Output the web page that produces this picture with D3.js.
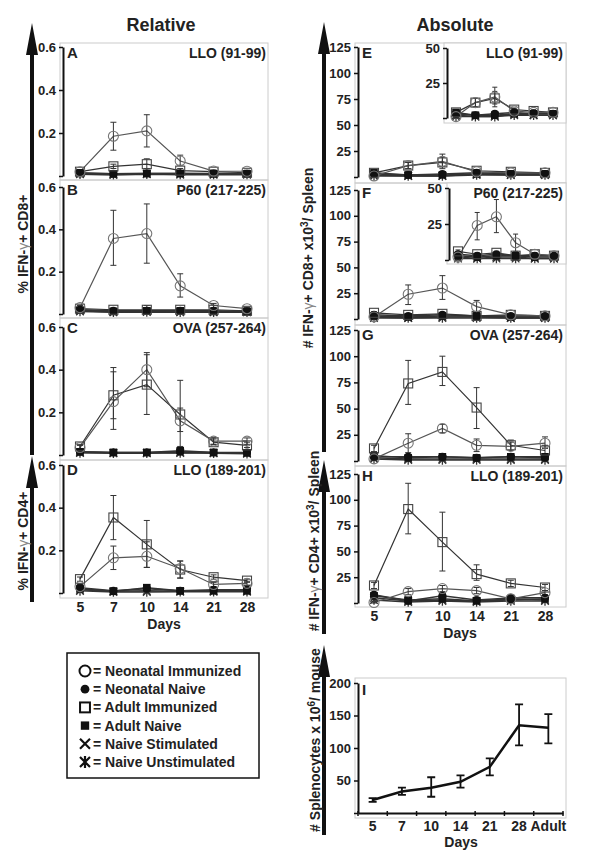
<!DOCTYPE html>
<html><head><meta charset="utf-8">
<script src="https://cdn.jsdelivr.net/npm/d3@7"></script>
<style>body{margin:0;background:#fff}svg{display:block}text{font-family:"Liberation Sans",Arial,sans-serif;font-weight:bold;fill:#222}</style>
</head><body>
<script>
// ---------- DATA ----------
const days = ["5","7","10","14","21","28"];
const iDays = ["5","7","10","14","21","28","Adult"];
const seriesNames = ["Neonatal Immunized","Neonatal Naive","Adult Immunized","Adult Naive","Naive Stimulated","Naive Unstimulated"];
const relTicks = [0, 0.2, 0.4, 0.6];
const absTicks = [0, 25, 50, 75, 100, 125];
const insetTicks = [0, 25, 50];
const spleenTicks = [0, 50, 100, 150, 200];

// rows: neoImm, neoNaive, adultImm, adultNaive, naiveStim, naiveUnstim
const A_values = [
  [0.02, 0.185, 0.21, 0.07, 0.023, 0.022],
  [0.012, 0.01, 0.012, 0.012, 0.012, 0.01],
  [0.02, 0.045, 0.055, 0.025, 0.02, 0.015],
  [0.015, 0.01, 0.012, 0.012, 0.01, 0.01],
  [0.01, 0.008, 0.01, 0.01, 0.008, 0.008],
  [0.008, 0.005, 0.008, 0.006, 0.006, 0.006]];
const A_errNeo = [[0.015,0.025],[0.12,0.25],[0.135,0.285],[0.05,0.097],[0.018,0.028],[0.018,0.027]];
const A_errAdult = [[0.015,0.025],[0.035,0.055],[0.035,0.08],[0.015,0.035],[0.015,0.025],[0.01,0.02]];

const B_values = [
  [0.03, 0.357, 0.38, 0.133, 0.04, 0.025],
  [0.02, 0.015, 0.015, 0.015, 0.015, 0.012],
  [0.025, 0.02, 0.02, 0.02, 0.02, 0.015],
  [0.018, 0.012, 0.015, 0.015, 0.012, 0.012],
  [0.015, 0.01, 0.012, 0.01, 0.01, 0.01],
  [0.012, 0.008, 0.01, 0.008, 0.008, 0.008]];
const B_errNeo = [[0.02,0.04],[0.23,0.49],[0.24,0.52],[0.08,0.19],[0.03,0.05],[0.02,0.03]];
const B_errAdult = [[0.02,0.03],[0.015,0.025],[0.01,0.04],[0.015,0.025],[0.015,0.025],[0.01,0.02]];

const C_values = [
  [0.035, 0.25, 0.40, 0.16, 0.065, 0.065],
  [0.015, 0.012, 0.012, 0.015, 0.012, 0.012],
  [0.04, 0.28, 0.33, 0.19, 0.06, 0.045],
  [0.015, 0.012, 0.012, 0.02, 0.012, 0.01],
  [0.012, 0.01, 0.01, 0.012, 0.01, 0.008],
  [0.01, 0.008, 0.008, 0.01, 0.008, 0.006]];
const C_errNeo = [[0.025,0.045],[0.12,0.39],[0.32,0.48],[0.04,0.35],[0.05,0.08],[0.05,0.08]];
const C_errAdult = [[0.03,0.05],[0.17,0.41],[0.19,0.47],[0.11,0.22],[0.05,0.075],[0.035,0.06]];

const D_values = [
  [0.03, 0.165, 0.172, 0.115, 0.04, 0.045],
  [0.025, 0.01, 0.02, 0.01, 0.015, 0.015],
  [0.065, 0.354, 0.228, 0.11, 0.074, 0.058],
  [0.02, 0.008, 0.025, 0.01, 0.01, 0.01],
  [0.015, 0.008, 0.01, 0.008, 0.01, 0.01],
  [0.01, 0.005, 0.005, 0.006, 0.006, 0.006]];
const D_errNeo = [[0.02,0.04],[0.11,0.22],[0.12,0.24],[0.07,0.15],[0.03,0.05],[0.035,0.055]];
const D_errAdult = [[0.055,0.075],[0.25,0.457],[0.12,0.34],[0.07,0.15],[0.065,0.085],[0.05,0.065]];

const E_values = [
  [1, 11, 15, 5, 4, 4],
  [3, 2, 3, 4, 3, 3],
  [4, 11, 14, 6, 5, 4],
  [4, 2, 2, 3, 3, 3],
  [2, 1, 1, 3, 2, 2],
  [1, 1, 1, 2, 2, 2]];
const E_errNeo = [[0,2],[8,14],[8,22],[3,7],[3,5],[3,5]];
const E_errAdult = [[3,5],[8,14],[10,19],[5,7],[4,6],[3,5]];

const F_values = [
  [2, 24, 30, 12, 4, 3],
  [4, 3, 4, 3, 3, 3],
  [6, 4, 5, 3, 4, 3],
  [3, 2, 3, 3, 2, 2],
  [2, 1, 2, 2, 1, 1],
  [1, 1, 1, 1, 1, 1]];
const F_errNeo = [[1,3],[14,33],[19,42],[6,18],[3,5],[2,4]];
const F_errAdult = [[5,7],[3,5],[4,6],[2,4],[3,5],[2,4]];

const G_values = [
  [2, 17, 31, 15, 14, 17],
  [4, 4, 4, 3, 4, 3],
  [12, 74, 85, 51, 15, 10],
  [5, 3, 4, 3, 4, 4],
  [3, 2, 2, 2, 2, 2],
  [2, 1, 1, 1, 1, 1]];
const G_errNeo = [[1,3],[8,26],[27,35],[9,21],[10,18],[12,23]];
const G_errAdult = [[9,15],[54,96],[72,100],[31,70],[10,20],[5,15]];

const H_values = [
  [0.5, 11, 14, 12, 4, 10],
  [8, 2, 7, 3, 5, 5],
  [17, 91, 59, 28, 19, 15],
  [7, 3, 4, 2, 3, 4],
  [5, 2, 3, 2, 4, 3],
  [3, 1, 2, 1, 2, 2]];
const H_errNeo = [[0,1],[8,14],[11,17],[9,15],[3,5],[8,12]];
const H_errAdult = [[14,20],[67,116],[31,88],[22,37],[16,22],[12,18]];

const I_values = [20, 33, 39, 48, 71, 135, 131];
const I_errLow = [17, 28, 25, 39, 58, 104, 107];
const I_errHigh = [23, 39, 55, 58, 84, 167, 152];

// ---------- DRAWING ----------
const W = 600, H = 861;
const svg = d3.select("body").append("svg").attr("width", W).attr("height", H);

const symbolTypes = ["openCircle","filledCircle","openSquare","filledSquare","cross","asterisk"];

function drawMarker(g, type, x, y, legend) {
  const k = legend ? 1.1 : 1;
  const sw = legend ? 2 : 1.1;
  if (type === "openCircle") g.append("circle").attr("cx", x).attr("cy", y).attr("r", 5*k).attr("fill", "none").attr("stroke", legend ? "#111" : "#777").attr("stroke-width", sw);
  else if (type === "filledCircle") g.append("circle").attr("cx", x).attr("cy", y).attr("r", 4*k).attr("fill", "#111");
  else if (type === "openSquare") g.append("rect").attr("x", x-4.5*k).attr("y", y-4.5*k).attr("width", 9*k).attr("height", 9*k).attr("fill", "none").attr("stroke", legend ? "#111" : "#444").attr("stroke-width", sw);
  else if (type === "filledSquare") g.append("rect").attr("x", x-3.8*k).attr("y", y-3.8*k).attr("width", 7.6*k).attr("height", 7.6*k).attr("fill", "#111");
  else if (type === "cross" || type === "asterisk") {
    const s = legend ? 5 : 3.8;
    const p = `M${x-s},${y-s}L${x+s},${y+s}M${x-s},${y+s}L${x+s},${y-s}` + (type === "asterisk" ? `M${x},${y-s-1}L${x},${y+s+1}` : "");
    g.append("path").attr("d", p).attr("stroke", legend ? "#111" : "#333").attr("stroke-width", legend ? 2.2 : 1.3).attr("fill", "none");
  }
}

function styleAxis(g) {
  g.select(".domain").attr("stroke", "#111").attr("stroke-width", 2);
  g.selectAll(".tick line").attr("stroke", "#111").attr("stroke-width", 1.5);
  g.selectAll(".tick text").attr("font-size", 13).attr("font-family", '"Liberation Sans",Arial,sans-serif').attr("font-weight", "bold").attr("fill", "#222");
}

function panelPlot(g, xScale, yScale, values, errNeo, errAdult, capW) {
  const line = d3.line().x((d, i) => xScale(days[i])).y(d => yScale(d));
  const order = [5, 4, 3, 1, 2, 0];
  order.forEach(si => {
    g.append("path").attr("d", line(values[si])).attr("fill", "none")
      .attr("stroke", si === 0 ? "#555" : "#333").attr("stroke-width", si === 0 || si === 2 ? 1.2 : 1.5);
  });
  [[errNeo, 0], [errAdult, 2]].forEach(([err, si]) => {
    err.forEach((e, i) => {
      const x = xScale(days[i]);
      const p = `M${x},${yScale(e[0])}L${x},${yScale(e[1])}M${x-capW},${yScale(e[0])}L${x+capW},${yScale(e[0])}M${x-capW},${yScale(e[1])}L${x+capW},${yScale(e[1])}`;
      g.append("path").attr("d", p).attr("stroke", "#333").attr("stroke-width", 1).attr("fill", "none");
    });
  });
  order.forEach(si => {
    values[si].forEach((v, i) => drawMarker(g, symbolTypes[si], xScale(days[i]), yScale(v), false));
  });
}

const panels = [
  {id:"A", title:"LLO (91-99)", values:A_values, eN:A_errNeo, eA:A_errAdult, col:"L", box:[60,43,268,180], y0:176, y1:47},
  {id:"B", title:"P60 (217-225)", values:B_values, eN:B_errNeo, eA:B_errAdult, col:"L", box:[60,180,268,318], y0:314, y1:187},
  {id:"C", title:"OVA (257-264)", values:C_values, eN:C_errNeo, eA:C_errAdult, col:"L", box:[60,318,268,460], y0:455, y1:327},
  {id:"D", title:"LLO (189-201)", values:D_values, eN:D_errNeo, eA:D_errAdult, col:"L", box:[60,460,268,598], y0:593, y1:465},
  {id:"E", title:"LLO (91-99)", values:E_values, eN:E_errNeo, eA:E_errAdult, col:"R", box:[355,43,566,183], y0:177, y1:47, inset:{box:[444,43,566,123], ax:447, y0:118, y1:48, x0:456, x1:553}},
  {id:"F", title:"P60 (217-225)", values:F_values, eN:F_errNeo, eA:F_errAdult, col:"R", box:[355,183,566,325], y0:319, y1:190, inset:{box:[447,183,566,264], ax:449, y0:260, y1:188, x0:458, x1:554}},
  {id:"G", title:"OVA (257-264)", values:G_values, eN:G_errNeo, eA:G_errAdult, col:"R", box:[355,325,566,466], y0:461, y1:330},
  {id:"H", title:"LLO (189-201)", values:H_values, eN:H_errNeo, eA:H_errAdult, col:"R", box:[355,466,566,607], y0:603, y1:474}
];

panels.forEach(p => {
  const g = svg.append("g");
  const [bx0, by0, bx1, by1] = p.box;
  g.append("rect").attr("x", bx0).attr("y", by0).attr("width", bx1-bx0).attr("height", by1-by0)
    .attr("fill", "none").attr("stroke", "#ccc").attr("stroke-width", 1);
  const isL = p.col === "L";
  const axX = isL ? 63 : 358;
  const x = d3.scalePoint().domain(days).range(isL ? [80, 247] : [374, 545]);
  const y = d3.scaleLinear().domain(isL ? [0, 0.6] : [0, 125]).range([p.y0, p.y1]);
  const ticks = isL ? relTicks : absTicks;
  const ax = g.append("g").attr("transform", `translate(${axX},0)`)
    .call(d3.axisLeft(y).tickValues(ticks).tickSize(4).tickSizeOuter(0).tickPadding(3)
      .tickFormat(d => d === 0 ? "" : (isL ? d3.format(".1f")(d) : d)));
  styleAxis(ax);
  panelPlot(g, x, y, p.values, p.eN, p.eA, 3);
  g.append("text").attr("x", isL ? 67 : 362).attr("y", by0 + 15).attr("font-size", 15).text(p.id);
  g.append("text").attr("x", isL ? 266 : 563).attr("y", by0 + 15).attr("text-anchor", "end").attr("font-size", 14).text(p.title);
  if (p.inset) {
    const s = p.inset;
    g.append("rect").attr("x", s.box[0]).attr("y", s.box[1]).attr("width", s.box[2]-s.box[0]).attr("height", s.box[3]-s.box[1])
      .attr("fill", "#fff").attr("stroke", "#ccc").attr("stroke-width", 1);
    const xi = d3.scalePoint().domain(days).range([s.x0, s.x1]);
    const yi = d3.scaleLinear().domain([0, 50]).range([s.y0, s.y1]);
    const ai = g.append("g").attr("transform", `translate(${s.ax},0)`)
      .call(d3.axisLeft(yi).tickValues(insetTicks).tickSize(4).tickSizeOuter(0).tickPadding(3).tickFormat(d => d === 0 ? "" : d));
    styleAxis(ai);
    panelPlot(g, xi, yi, p.values, p.eN, p.eA, 2.5);
    g.append("text").attr("x", 563).attr("y", by0 + 15).attr("text-anchor", "end").attr("font-size", 14).text(p.title);
  }
  if (p.id === "D" || p.id === "H") {
    const xa = g.append("g").attr("transform", `translate(0,${by1})`)
      .call(d3.axisBottom(x).tickSize(0).tickPadding(4));
    xa.select(".domain").remove();
    xa.selectAll("text").attr("font-size", 14).attr("font-family", '"Liberation Sans",Arial,sans-serif').attr("font-weight", "bold").attr("fill", "#222");
    g.append("text").attr("x", isL ? 164 : 460).attr("y", by1 + 31).attr("text-anchor", "middle").attr("font-size", 14).text("Days");
  }
});

// Panel I
(function(){
  const g = svg.append("g");
  g.append("rect").attr("x", 355).attr("y", 678).attr("width", 211).attr("height", 140).attr("fill", "none").attr("stroke", "#ccc");
  const x = d3.scaleBand().domain(iDays).range([358, 563]);
  const y = d3.scaleLinear().domain([0, 200]).range([813, 683]);
  const ay = g.append("g").attr("transform", "translate(358,0)")
    .call(d3.axisLeft(y).tickValues(spleenTicks).tickSize(4).tickSizeOuter(0).tickPadding(3).tickFormat(d => d === 0 ? "" : d));
  styleAxis(ay);
  const ax = g.append("g").attr("transform", "translate(0,813)")
    .call(d3.axisBottom(x).tickSize(0).tickPadding(8));
  styleAxis(ax);
  ax.selectAll(".tick text").attr("font-size", 14);
  const bounds = iDays.map(d => x(d)).concat([x.range()[1]]);
  bounds.forEach(b => g.append("line").attr("x1", b).attr("x2", b).attr("y1", 811).attr("y2", 816).attr("stroke", "#111").attr("stroke-width", 1.5));
  const cx = d => x(d) + x.bandwidth()/2;
  g.append("path").attr("d", d3.line().x((d, i) => cx(iDays[i])).y(d => y(d))(I_values))
    .attr("fill", "none").attr("stroke", "#111").attr("stroke-width", 2.5);
  I_values.forEach((v, i) => {
    const xx = cx(iDays[i]);
    const p = `M${xx},${y(I_errLow[i])}L${xx},${y(I_errHigh[i])}M${xx-4},${y(I_errLow[i])}L${xx+4},${y(I_errLow[i])}M${xx-4},${y(I_errHigh[i])}L${xx+4},${y(I_errHigh[i])}`;
    g.append("path").attr("d", p).attr("stroke", "#111").attr("stroke-width", 1.8).attr("fill", "none");
  });
  g.append("text").attr("x", 362).attr("y", 695).attr("font-size", 15).text("I");
  g.append("text").attr("x", 461).attr("y", 847).attr("text-anchor", "middle").attr("font-size", 14).text("Days");
})();

// Titles
svg.append("text").attr("x", 161).attr("y", 31).attr("text-anchor", "middle").attr("font-size", 18).text("Relative");
svg.append("text").attr("x", 455).attr("y", 31).attr("text-anchor", "middle").attr("font-size", 18).text("Absolute");

// Arrows
function arrow(x, tipY, botY) {
  svg.append("rect").attr("x", x-2).attr("y", tipY+20).attr("width", 4).attr("height", botY-tipY-20).attr("fill", "#111");
  svg.append("path").attr("d", `M${x},${tipY}L${x-6},${tipY+32}L${x+6},${tipY+32}Z`).attr("fill", "#111");
}
arrow(32, 23, 455);
arrow(32, 456, 602);
arrow(324, 22, 452);
arrow(324, 460, 634);
arrow(324, 645, 835);

// Rotated axis labels
function vlabel(x, y, parts) {
  const t = svg.append("text").attr("transform", `translate(${x},${y}) rotate(-90)`).attr("text-anchor", "middle").attr("font-size", 14);
  parts.forEach(p => {
    const ts = t.append("tspan").text(p.t);
    if (p.sup) ts.attr("baseline-shift", "super").attr("font-size", 10);
    if (p.light) ts.attr("fill", "#888").attr("font-weight", "normal");
  });
}
vlabel(28, 244, [{t:"% IFN-"},{t:"γ", light:true},{t:"+ CD8+"}]);
vlabel(28, 541, [{t:"% IFN-"},{t:"γ", light:true},{t:"+ CD4+"}]);
vlabel(313, 258, [{t:"# IFN-"},{t:"γ", light:true},{t:"+ CD8+ x10"},{t:"3", sup:true},{t:"/ Spleen"}]);
vlabel(319, 541, [{t:"# IFN-"},{t:"γ", light:true},{t:"+ CD4+ x10"},{t:"3", sup:true},{t:"/ Spleen"}]);
vlabel(320, 740, [{t:"# Splenocytes x 10"},{t:"6", sup:true},{t:"/ mouse"}]);

// Legend
(function(){
  const g = svg.append("g");
  g.append("rect").attr("x", 67).attr("y", 653).attr("width", 192).attr("height", 125).attr("fill", "#fff").attr("stroke", "#111").attr("stroke-width", 1.5);
  seriesNames.forEach((name, i) => {
    const yy = 671 + i*18.2;
    drawMarker(g, symbolTypes[i], 85, yy, true);
    g.append("text").attr("x", 93).attr("y", yy + 5).attr("font-size", 14).text("= " + name);
  });
})();
</script>
</body></html>
